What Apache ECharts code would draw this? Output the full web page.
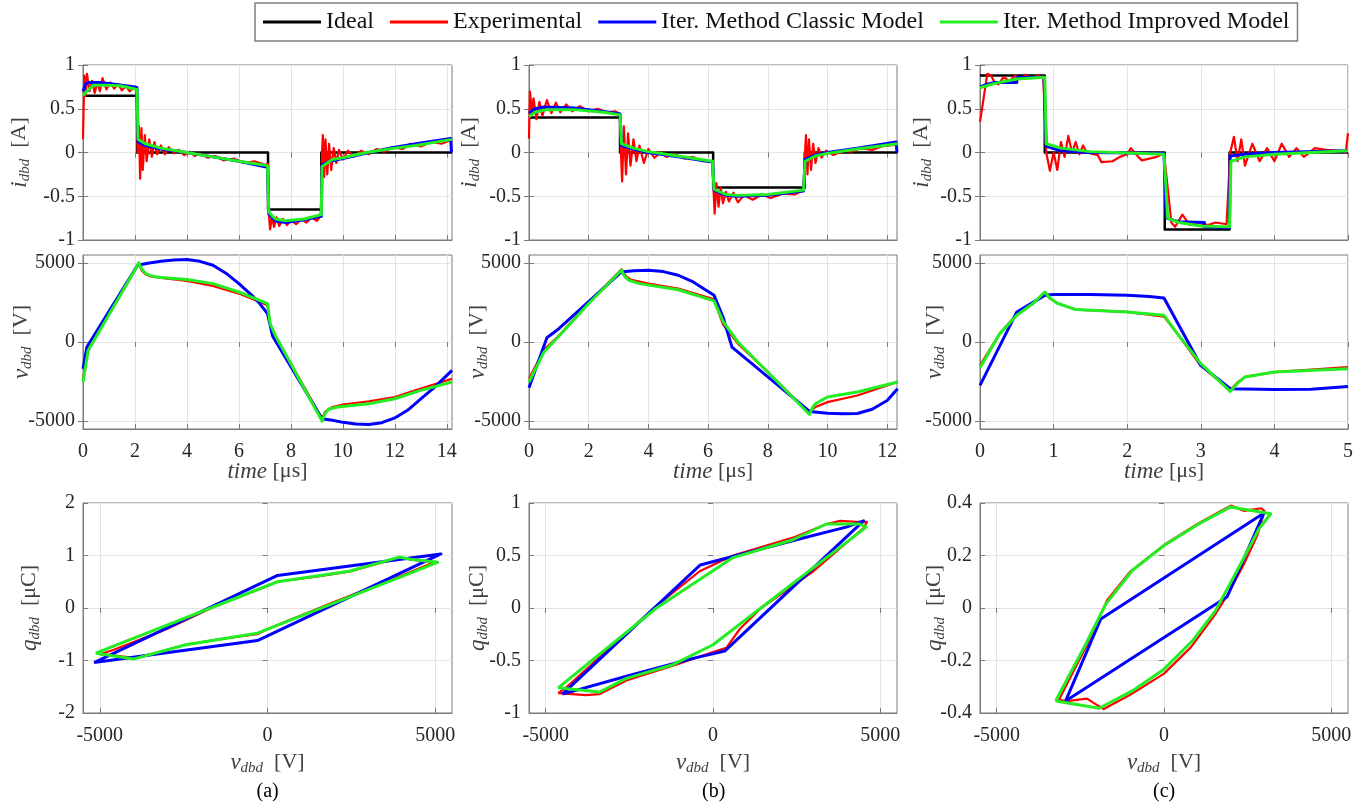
<!DOCTYPE html>
<html><head><meta charset="utf-8">
<script src="https://cdn.jsdelivr.net/npm/echarts@6/dist/echarts.min.js"></script>
<style>html,body{margin:0;padding:0;background:#fff}#c{width:1369px;height:809px}</style>
</head><body><div id="c"></div><script>
// ---------- tick values ----------
const ticksTimeA = [0,2,4,6,8,10,12,14];
const ticksTimeB = [0,2,4,6,8,10,12];
const ticksTimeC = [0,1,2,3,4,5];
const ticksCurrent = [-1,-0.5,0,0.5,1];
const ticksVolt = [-5000,0,5000];
const ticksChargeA = [-2,-1,0,1,2];
const ticksChargeB = [-1,-0.5,0,0.5,1];
const ticksChargeC = [-0.4,-0.2,0,0.2,0.4];
const seriesNames = ['Ideal','Experimental','Iter. Method Classic Model','Iter. Method Improved Model'];
const panelLetters = ['(a)','(b)','(c)'];

// ---------- (a) current [t(us), i(A)] ----------
const a_i_ideal = [[0,0.65],[2.08,0.65],[2.08,0],[7.12,0],[7.12,-0.65],[9.17,-0.65],[9.17,0],[14.2,0]];
const a_i_exp = [[0,0.15],[0.05,0.88],[0.1,0.65],[0.15,0.9],[0.25,0.7],[0.35,0.82],[0.45,0.68],[0.55,0.8],[0.65,0.7],[0.75,0.85],[0.9,0.72],[1.05,0.8],[1.2,0.73],[1.35,0.78],[1.5,0.71],[1.65,0.76],[1.8,0.7],[1.95,0.74],[2.05,0.72],[2.1,0.0],[2.15,0.3],[2.2,-0.3],[2.25,0.28],[2.3,-0.2],[2.38,0.2],[2.45,-0.1],[2.55,0.15],[2.65,-0.05],[2.75,0.12],[2.85,-0.02],[3.0,0.08],[3.15,-0.02],[3.3,0.06],[3.5,-0.01],[3.7,0.03],[3.9,-0.03],[4.1,0.01],[4.3,-0.04],[4.5,-0.01],[4.8,-0.06],[5.1,-0.04],[5.4,-0.09],[5.8,-0.07],[6.2,-0.12],[6.6,-0.1],[7.0,-0.14],[7.12,-0.13],[7.15,-0.7],[7.2,-0.88],[7.28,-0.72],[7.35,-0.85],[7.45,-0.74],[7.55,-0.84],[7.7,-0.76],[7.85,-0.83],[8.0,-0.77],[8.2,-0.82],[8.4,-0.76],[8.6,-0.8],[8.8,-0.74],[9.0,-0.78],[9.15,-0.72],[9.2,0.0],[9.23,0.2],[9.28,-0.28],[9.33,0.15],[9.4,-0.25],[9.47,0.1],[9.55,-0.2],[9.65,0.05],[9.75,-0.12],[9.85,0.03],[10.0,-0.08],[10.2,0.02],[10.4,-0.05],[10.7,0.02],[11.0,-0.02],[11.3,0.04],[11.6,0.01],[11.9,0.06],[12.3,0.04],[12.6,0.1],[13.0,0.07],[13.4,0.12],[13.8,0.1],[14.15,0.14]];
const a_i_classic = [[0,0.7],[0.1,0.78],[0.2,0.8],[0.6,0.8],[1.0,0.79],[1.5,0.77],[2.0,0.75],[2.08,0.74],[2.12,0.12],[2.4,0.08],[3,0.04],[4,0],[5,-0.05],[6,-0.1],[7.1,-0.17],[7.15,-0.7],[7.4,-0.78],[7.8,-0.8],[8.5,-0.77],[9.17,-0.73],[9.2,-0.14],[9.5,-0.1],[10,-0.07],[11,0],[12,0.06],[13,0.11],[14.15,0.16],[14.18,0.0]];
const a_i_improved = [[0,0.65],[0.15,0.7],[0.4,0.77],[1,0.77],[1.5,0.76],[2.08,0.72],[2.12,0.15],[2.4,0.1],[3,0.05],[4,0.0],[5,-0.05],[6,-0.1],[7.1,-0.15],[7.15,-0.68],[7.4,-0.76],[7.8,-0.78],[8.5,-0.76],[9.17,-0.71],[9.2,-0.16],[9.6,-0.08],[10,-0.06],[10.9,0],[12,0.05],[12.8,0.08],[14.2,0.15]];

// ---------- (a) voltage [t(us), v(V)] ----------
const a_v_exp = [[0,-2320],[0.2,-500],[2.15,4950],[2.25,4550],[2.4,4280],[2.6,4150],[3,4050],[4,3860],[5,3550],[6,3060],[7.1,2320],[7.2,1100],[7.4,400],[9.2,-4850],[9.3,-4450],[9.45,-4250],[9.6,-4110],[10,-3950],[11,-3750],[12,-3480],[13,-2950],[14.2,-2320]];
const a_v_classic = [[0,-1690],[0.15,-320],[2.1,4850],[2.5,4980],[3,5100],[3.5,5180],[4,5210],[4.5,5100],[5,4850],[5.5,4350],[6,3690],[6.5,2950],[6.8,2430],[7.1,1790],[7.3,360],[9.2,-4850],[9.6,-4950],[10,-5080],[10.5,-5180],[11,-5210],[11.5,-5100],[12,-4800],[12.5,-4300],[13,-3600],[13.5,-2900],[14.2,-1790]];
const a_v_improved = [[0,-2530],[0.2,-530],[2.15,5000],[2.25,4650],[2.4,4350],[2.6,4180],[3,4080],[4,3950],[5,3690],[6,3160],[7.1,2430],[7.2,1160],[7.4,420],[9.2,-5000],[9.3,-4550],[9.45,-4250],[9.8,-4110],[11,-3900],[12,-3590],[13,-3060],[14.2,-2530]];

// ---------- (a) charge [v(V), q(uC)] ----------
const a_q_exp = [[-5000,-0.88],[-4600,-0.8],[-3000,-0.4],[-1500,0.05],[0,0.42],[300,0.5],[1500,0.6],[2435,0.69],[3500,0.88],[4000,0.95],[4500,0.9],[5000,0.88],[4000,0.62],[2000,0.12],[0,-0.4],[-300,-0.5],[-1500,-0.6],[-2435,-0.7],[-3500,-0.88],[-4000,-0.95],[-4600,-0.9],[-5000,-0.88]];
const a_q_classic = [[-5170,-1.04],[300,0.62],[5170,1.03],[-300,-0.62],[-5170,-1.04]];
const a_q_improved = [[-5120,-0.86],[300,0.5],[2435,0.7],[3930,0.97],[4250,0.93],[5070,0.87],[-300,-0.48],[-2435,-0.7],[-3980,-0.97],[-5120,-0.86]];

// ---------- (b) current ----------
const b_i_ideal = [[0,0.4],[3.05,0.4],[3.05,0],[6.17,0],[6.17,-0.4],[9.24,-0.4],[9.24,0],[12.35,0]];
const b_i_exp = [[0,0.16],[0.03,0.7],[0.1,0.45],[0.15,0.62],[0.25,0.38],[0.35,0.58],[0.45,0.42],[0.6,0.6],[0.75,0.45],[0.9,0.57],[1.05,0.46],[1.25,0.55],[1.45,0.47],[1.7,0.53],[2.0,0.47],[2.3,0.5],[2.6,0.46],[2.9,0.47],[3.05,0.44],[3.08,0.0],[3.12,-0.33],[3.18,0.3],[3.25,-0.25],[3.32,0.22],[3.4,-0.15],[3.5,0.15],[3.6,-0.1],[3.7,0.08],[3.85,-0.12],[4.0,0.04],[4.2,-0.06],[4.4,0.0],[4.6,-0.05],[4.9,-0.02],[5.2,-0.07],[5.5,-0.05],[5.8,-0.1],[6.15,-0.1],[6.18,-0.4],[6.22,-0.7],[6.28,-0.35],[6.35,-0.62],[6.42,-0.4],[6.5,-0.58],[6.6,-0.45],[6.7,-0.56],[6.85,-0.46],[7.0,-0.57],[7.2,-0.49],[7.5,-0.54],[7.8,-0.48],[8.1,-0.52],[8.5,-0.47],[8.9,-0.48],[9.2,-0.43],[9.25,0.0],[9.28,0.2],[9.33,-0.25],[9.38,0.15],[9.45,-0.2],[9.52,0.1],[9.6,-0.12],[9.7,0.05],[9.8,-0.06],[9.95,0.02],[10.2,-0.03],[10.5,0.02],[10.8,0.01],[11.1,0.05],[11.5,0.03],[11.8,0.07],[12.3,0.09]];
const b_i_classic = [[0,0.45],[0.2,0.5],[0.5,0.52],[1.5,0.51],[2.5,0.47],[3.05,0.44],[3.1,0.08],[3.5,0.04],[4,0.0],[5,-0.05],[6.15,-0.11],[6.2,-0.43],[6.6,-0.49],[7,-0.5],[8,-0.49],[9.2,-0.44],[9.25,-0.08],[9.6,-0.03],[10,0.0],[11,0.05],[12.3,0.12],[12.33,0.0]];
const b_i_improved = [[0,0.41],[0.2,0.46],[0.6,0.49],[1.5,0.49],[2.5,0.46],[3.05,0.43],[3.1,0.1],[3.5,0.05],[4,0.01],[5,-0.04],[6.15,-0.1],[6.2,-0.42],[6.6,-0.48],[7,-0.49],[8,-0.48],[9.2,-0.43],[9.25,-0.1],[9.6,-0.04],[10,-0.01],[11,0.04],[12.35,0.1]];

// ---------- (b) voltage ----------
const b_v_exp = [[0,-2320],[0.5,-500],[1,400],[2,2500],[3.1,4600],[3.25,4150],[3.4,3950],[4,3690],[5,3380],[6.2,2700],[6.5,1100],[7,-100],[8,-1900],[9.4,-4500],[9.5,-4250],[9.6,-4110],[10,-3800],[11,-3380],[12.35,-2530]];
const b_v_classic = [[0,-2890],[0.6,270],[1,840],[3.1,4430],[3.5,4500],[4,4540],[4.5,4450],[5,4220],[5.5,3800],[6.2,2950],[6.5,1580],[6.8,-320],[9.4,-4390],[10,-4500],[10.5,-4540],[11,-4520],[11.5,-4250],[12,-3700],[12.35,-2950]];
const b_v_improved = [[0,-2530],[0.5,-630],[1,360],[2,2430],[3.1,4540],[3.2,4150],[3.35,3900],[3.7,3690],[5,3300],[6.2,2600],[6.5,1300],[7,0],[8,-1900],[9.4,-4580],[9.5,-4150],[9.6,-3900],[10,-3480],[11,-3160],[12.35,-2530]];

// ---------- (b) charge ----------
const b_q_exp = [[-4630,-0.81],[-4400,-0.76],[-1690,0.02],[-400,0.35],[600,0.5],[2390,0.67],[3400,0.8],[3800,0.83],[4300,0.82],[4600,0.82],[4500,0.76],[3000,0.35],[1440,0.0],[800,-0.2],[400,-0.38],[0,-0.42],[-1200,-0.55],[-2590,-0.69],[-3390,-0.82],[-3800,-0.83],[-4630,-0.81]];
const b_q_classic = [[-4500,-0.82],[-380,0.41],[2490,0.65],[3980,0.77],[4500,0.83],[350,-0.41],[-600,-0.48],[-2590,-0.65],[-4500,-0.82]];
const b_q_improved = [[-4630,-0.76],[-1690,0],[600,0.48],[2390,0.65],[3390,0.8],[4380,0.8],[4580,0.77],[0,-0.35],[-1200,-0.54],[-2590,-0.67],[-3390,-0.8],[-4630,-0.76]];

// ---------- (c) current ----------
const c_i_ideal = [[0,0.88],[0.88,0.88],[0.88,0],[2.51,0],[2.51,-0.88],[3.39,-0.88],[3.39,0],[5,0]];
const c_i_exp = [[0,0.35],[0.1,0.9],[0.15,0.88],[0.2,0.8],[0.25,0.78],[0.32,0.86],[0.4,0.82],[0.48,0.88],[0.55,0.84],[0.62,0.89],[0.7,0.85],[0.78,0.88],[0.86,0.86],[0.9,0.0],[0.95,-0.21],[1.0,0.0],[1.05,-0.2],[1.1,0.12],[1.15,-0.05],[1.2,0.19],[1.25,0.0],[1.3,0.12],[1.35,-0.02],[1.4,0.08],[1.45,0.0],[1.6,-0.03],[1.65,-0.11],[1.8,-0.1],[1.9,-0.05],[2.0,-0.02],[2.05,0.05],[2.15,-0.05],[2.2,-0.09],[2.3,-0.07],[2.4,-0.05],[2.5,-0.01],[2.6,-0.8],[2.65,-0.85],[2.75,-0.71],[2.85,-0.83],[2.95,-0.8],[3.1,-0.83],[3.2,-0.8],[3.35,-0.82],[3.4,0.0],[3.45,0.18],[3.5,-0.1],[3.55,0.15],[3.6,-0.15],[3.7,0.1],[3.8,-0.1],[3.9,0.05],[4.0,-0.1],[4.1,0.1],[4.2,-0.05],[4.3,0.05],[4.4,-0.05],[4.55,0.05],[4.7,0.03],[4.9,0.02],[4.97,0.0],[5.0,0.22]];
const c_i_classic = [[0,0.75],[0.1,0.78],[0.2,0.8],[0.5,0.8],[0.5,0.86],[0.87,0.86],[0.9,0.07],[1.1,0.02],[1.5,0],[2.5,-0.01],[2.53,-0.75],[2.7,-0.79],[3.05,-0.8],[3.05,-0.85],[3.39,-0.86],[3.4,-0.04],[3.6,-0.02],[4,0],[5,0.02]];
const c_i_improved = [[0,0.74],[0.2,0.79],[0.5,0.84],[0.88,0.86],[0.9,0.1],[1.1,0.05],[1.5,0.01],[2.5,-0.02],[2.55,-0.75],[2.7,-0.8],[3,-0.84],[3.39,-0.85],[3.41,-0.1],[3.6,-0.05],[4,-0.02],[5,0.02]];

// ---------- (c) voltage ----------
const c_v_exp = [[0,-1480],[0.27,550],[0.5,1750],[0.72,2450],[0.88,3100],[0.95,2750],[1.05,2450],[1.3,2050],[2,1900],[2.5,1600],[2.7,400],[3,-1500],[3.4,-3050],[3.5,-2550],[3.6,-2200],[4,-1900],[5,-1580]];
const c_v_classic = [[0,-2740],[0.5,1900],[0.88,2950],[1,3000],[1.5,3000],[2,2950],[2.3,2870],[2.5,2780],[3,-1480],[3.4,-2950],[4,-3000],[4.5,-2980],[5,-2810]];
const c_v_improved = [[0,-1620],[0.27,530],[0.5,1690],[0.72,2430],[0.88,3160],[0.95,2780],[1.05,2450],[1.3,2050],[2,1900],[2.5,1690],[2.7,420],[3,-1370],[3.4,-3120],[3.5,-2600],[3.6,-2215],[4,-1900],[5,-1690]];

// ---------- (c) charge ----------
const c_q_exp = [[-3140,-0.35],[-2900,-0.355],[-2300,-0.345],[-2000,-0.37],[-1800,-0.385],[-1000,-0.33],[0,-0.25],[800,-0.15],[1500,-0.03],[1900,0.05],[2400,0.17],[2800,0.28],[3000,0.37],[2900,0.38],[2400,0.37],[2000,0.39],[1700,0.37],[1000,0.32],[0,0.24],[-1000,0.14],[-1700,0.03],[-2300,-0.14],[-3140,-0.35]];
const c_q_classic = [[-2940,-0.354],[-1890,-0.042],[2990,0.362],[1890,0.043],[-2940,-0.354]];
const c_q_improved = [[-3240,-0.354],[-1940,-0.382],[-950,-0.316],[0,-0.233],[850,-0.125],[1540,-0.01],[2240,0.155],[2840,0.302],[3190,0.359],[1990,0.385],[1050,0.321],[0,0.238],[-950,0.143],[-1740,0.015],[-2340,-0.138],[-3240,-0.354]];

// ---------- layout ----------
const SERIF = 'Liberation Serif';
const colLeft = [83, 529, 980], colWidth = [369, 368, 368];
const rowTop = [65, 255, 503], rowHeight = [175, 174, 210];
const colors = ['#000000', '#ff0000', '#0000ff', '#22ee22'];
const widths = [2.5, 2.2, 3, 3];

const labelColor = '#404040';
const richStyles = {
  it: {fontFamily: SERIF, fontStyle: 'italic', fontSize: 23, color: labelColor},
  sub: {fontFamily: SERIF, fontStyle: 'italic', fontSize: 15, color: labelColor, padding: [12, 0, 0, 0]},
  n: {fontFamily: SERIF, fontSize: 22, color: labelColor}
};

const panels = [
  {c:0, r:0, xr:[0,14.2], xt:ticksTimeA, yr:[-1,1], yt:ticksCurrent, d:[a_i_ideal,a_i_exp,a_i_classic,a_i_improved], yn:'{it|i}{sub|dbd}{n|  [A]}', ng:50},
  {c:0, r:1, xr:[0,14.2], xt:ticksTimeA, yr:[-5500,5500], yt:ticksVolt, d:[null,a_v_exp,a_v_classic,a_v_improved], yn:'{it|v}{sub|dbd}{n|  [V]}', ng:48, xn:'{it|time}{n| [μs]}'},
  {c:0, r:2, xr:[-5500,5500], xt:ticksVolt, yr:[-2,2], yt:ticksChargeA, d:[null,a_q_exp,a_q_classic,a_q_improved], yn:'{it|q}{sub|dbd}{n|  [μC]}', ng:40, xn:'{it|v}{sub|dbd}{n|  [V]}'},
  {c:1, r:0, xr:[0,12.33], xt:ticksTimeB, yr:[-1,1], yt:ticksCurrent, d:[b_i_ideal,b_i_exp,b_i_classic,b_i_improved], yn:'{it|i}{sub|dbd}{n|  [A]}', ng:46},
  {c:1, r:1, xr:[0,12.33], xt:ticksTimeB, yr:[-5500,5500], yt:ticksVolt, d:[null,b_v_exp,b_v_classic,b_v_improved], yn:'{it|v}{sub|dbd}{n|  [V]}', ng:38, xn:'{it|time}{n| [μs]}'},
  {c:1, r:2, xr:[-5500,5500], xt:ticksVolt, yr:[-1,1], yt:ticksChargeB, d:[null,b_q_exp,b_q_classic,b_q_improved], yn:'{it|q}{sub|dbd}{n|  [μC]}', ng:38, xn:'{it|v}{sub|dbd}{n|  [V]}'},
  {c:2, r:0, xr:[0,5], xt:ticksTimeC, yr:[-1,1], yt:ticksCurrent, d:[c_i_ideal,c_i_exp,c_i_classic,c_i_improved], yn:'{it|i}{sub|dbd}{n|  [A]}', ng:45},
  {c:2, r:1, xr:[0,5], xt:ticksTimeC, yr:[-5500,5500], yt:ticksVolt, d:[null,c_v_exp,c_v_classic,c_v_improved], yn:'{it|v}{sub|dbd}{n|  [V]}', ng:32, xn:'{it|time}{n| [μs]}'},
  {c:2, r:2, xr:[-5500,5500], xt:ticksVolt, yr:[-0.4,0.4], yt:ticksChargeC, d:[null,c_q_exp,c_q_classic,c_q_improved], yn:'{it|q}{sub|dbd}{n|  [μC]}', ng:32, xn:'{it|v}{sub|dbd}{n|  [V]}'}
];

const grid = [], xAxis = [], yAxis = [], series = [];
const axisGray = '#7a7a7a';
const fmt = v => String(v);
panels.forEach((p, k) => {
  grid.push({left: colLeft[p.c], top: rowTop[p.r], width: colWidth[p.c], height: rowHeight[p.r],
    show: true, borderColor: axisGray, borderWidth: 1, containLabel: false});
  xAxis.push({
    gridIndex: k, type: 'value', min: p.xr[0], max: p.xr[1],
    axisLine: {show: true, onZero: false, lineStyle: {color: axisGray, width: 1}},
    axisTick: {show: true, inside: true, length: 5, customValues: p.xt, lineStyle: {color: axisGray}},
    axisLabel: {show: p.r > 0, customValues: p.xt, formatter: fmt, color: '#262626', fontFamily: SERIF, fontSize: 20, margin: 13},
    splitLine: {show: true, lineStyle: {color: '#e4e4e4', width: 1}},
    name: p.xn || '', nameLocation: 'middle', nameGap: p.r === 1 ? 31 : 36, nameMoveOverlap: false,
    nameTextStyle: {rich: richStyles}
  });
  yAxis.push({
    gridIndex: k, type: 'value', min: p.yr[0], max: p.yr[1],
    axisLine: {show: true, onZero: false, lineStyle: {color: axisGray, width: 1}},
    axisTick: {show: true, inside: true, length: 5, customValues: p.yt, lineStyle: {color: axisGray}},
    axisLabel: {customValues: p.yt, formatter: fmt, color: '#262626', fontFamily: SERIF, fontSize: 20, margin: 8},
    splitLine: {show: true, lineStyle: {color: '#e4e4e4', width: 1}},
    name: p.yn, nameLocation: 'middle', nameGap: p.ng, nameRotate: 90, nameMoveOverlap: false,
    nameTextStyle: {rich: richStyles}
  });
  p.d.forEach((arr, s) => {
    if (!arr) return;
    series.push({
      type: 'line', name: seriesNames[s], xAxisIndex: k, yAxisIndex: k, data: arr,
      showSymbol: false, symbol: 'none', clip: true, z: 2 + s,
      lineStyle: {color: colors[s], width: widths[s], join: 'round'},
      itemStyle: {color: colors[s]}
    });
  });
});
// mirrored ticks on the top and right borders (box style)
panels.forEach((p, k) => {
  xAxis.push({gridIndex: k, type: 'value', position: 'top', min: p.xr[0], max: p.xr[1],
    axisLine: {show: false}, axisLabel: {show: false}, splitLine: {show: false},
    axisTick: {show: true, inside: true, length: 5, customValues: p.xt, lineStyle: {color: axisGray}}});
  yAxis.push({gridIndex: k, type: 'value', position: 'right', min: p.yr[0], max: p.yr[1],
    axisLine: {show: false}, axisLabel: {show: false}, splitLine: {show: false},
    axisTick: {show: true, inside: true, length: 5, customValues: p.yt, lineStyle: {color: axisGray}}});
});

const graphic = panelLetters.map((t, i) => ({
  type: 'text', left: colLeft[i] + colWidth[i] / 2 - 11, top: 782,
  style: {text: t, font: '20px "Liberation Serif"', fill: '#000'}
}));

const chart = echarts.init(document.getElementById('c'), null, {renderer: 'canvas'});
chart.setOption({
  animation: false,
  backgroundColor: '#ffffff',
  legend: {
    left: 255, top: 3, data: seriesNames, icon: 'rect', itemWidth: 58, itemHeight: 3, itemGap: 16,
    padding: [7, 8, 7, 8], borderColor: '#808080', borderWidth: 1.5, backgroundColor: '#fff',
    textStyle: {fontFamily: SERIF, fontSize: 24, color: '#111'}
  },
  grid, xAxis, yAxis, series, graphic
});
</script></body></html>
